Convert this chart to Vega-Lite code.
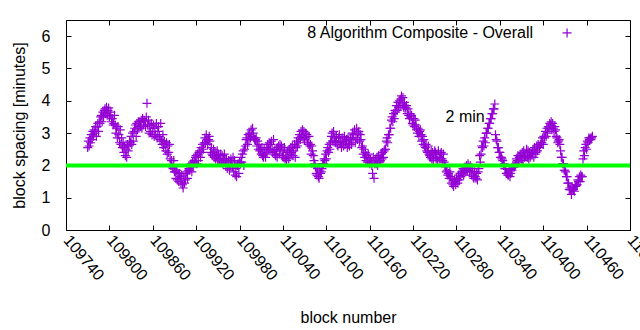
{
"$schema": "https://vega.github.io/schema/vega-lite/v6.json",
"width": 564, "height": 210,
"autosize": {"type": "none"},
"padding": {"left": 66, "top": 20, "right": 10, "bottom": 100},
"background": "white",
"config": {"view": {"stroke": "black", "strokeWidth": 1}, "font": "Liberation Sans",
 "axis": {"grid": false, "domain": false, "tickColor": "black", "tickSize": -5, "labelColor": "black", "labelFontSize": 16, "titleFontSize": 16, "titleFontWeight": "normal", "titleColor": "black", "labelFont": "Liberation Sans", "titleFont": "Liberation Sans"}},
"datasets": {"blocks": [
{"b":109770,"v":2.55},{"b":109771,"v":2.75},{"b":109772,"v":2.6},{"b":109773,"v":2.85},{"b":109774,"v":2.7},{"b":109775,"v":2.95},{"b":109776,"v":2.8},{"b":109777,"v":3.05},{"b":109778,"v":2.9},{"b":109779,"v":3.1},
{"b":109780,"v":3.0},{"b":109781,"v":3.2},{"b":109782,"v":2.9},{"b":109783,"v":3.2},{"b":109784,"v":3.3},{"b":109785,"v":3.05},{"b":109786,"v":3.35},
{"b":109787,"v":3.3},{"b":109788,"v":3.5},{"b":109789,"v":3.55},{"b":109790,"v":3.35},{"b":109791,"v":3.65},{"b":109792,"v":3.5},{"b":109793,"v":3.7},
{"b":109794,"v":3.75},{"b":109795,"v":3.6},{"b":109796,"v":3.8},{"b":109797,"v":3.55},{"b":109798,"v":3.7},{"b":109799,"v":3.78},{"b":109800,"v":3.5},
{"b":109801,"v":3.55},{"b":109802,"v":3.65},{"b":109803,"v":3.35},{"b":109804,"v":3.45},{"b":109805,"v":3.25},{"b":109806,"v":3.3},{"b":109807,"v":3.55},
{"b":109808,"v":3.25},{"b":109809,"v":3.0},{"b":109810,"v":3.15},{"b":109811,"v":2.85},{"b":109812,"v":3.2},{"b":109813,"v":2.95},{"b":109814,"v":2.7},
{"b":109815,"v":3.1},{"b":109816,"v":2.65},{"b":109817,"v":2.85},{"b":109818,"v":2.55},{"b":109819,"v":2.7},{"b":109820,"v":2.4},{"b":109821,"v":2.6},
{"b":109822,"v":2.3},{"b":109823,"v":2.5},{"b":109824,"v":2.25},{"b":109825,"v":2.65},{"b":109826,"v":2.45},{"b":109827,"v":2.6},{"b":109828,"v":2.75},
{"b":109829,"v":2.7},{"b":109830,"v":2.9},{"b":109831,"v":2.65},{"b":109832,"v":3.0},{"b":109833,"v":2.75},{"b":109834,"v":3.05},
{"b":109835,"v":3.15},{"b":109836,"v":3.25},{"b":109837,"v":2.9},{"b":109838,"v":3.3},{"b":109839,"v":3.1},{"b":109840,"v":3.35},{"b":109841,"v":3.15},
{"b":109842,"v":3.35},{"b":109843,"v":3.2},{"b":109844,"v":3.4},{"b":109845,"v":3.15},{"b":109846,"v":3.45},{"b":109847,"v":3.25},{"b":109848,"v":3.4},
{"b":109849,"v":3.35},{"b":109850,"v":3.2},{"b":109851,"v":3.5},{"b":109852,"v":3.92},{"b":109853,"v":3.25},{"b":109854,"v":3.4},{"b":109855,"v":3.0},
{"b":109856,"v":3.25},{"b":109857,"v":3.05},{"b":109858,"v":3.3},{"b":109859,"v":2.95},{"b":109860,"v":3.15},{"b":109861,"v":3.25},{"b":109862,"v":2.9},
{"b":109863,"v":3.15},{"b":109864,"v":2.95},{"b":109865,"v":3.3},{"b":109866,"v":2.85},{"b":109867,"v":3.05},{"b":109868,"v":3.2},{"b":109869,"v":2.9},
{"b":109870,"v":2.8},{"b":109871,"v":3.3},{"b":109872,"v":2.75},{"b":109873,"v":2.65},{"b":109874,"v":2.95},{"b":109875,"v":2.55},{"b":109876,"v":2.75},
{"b":109877,"v":2.65},{"b":109878,"v":2.45},{"b":109879,"v":2.7},{"b":109880,"v":2.35},{"b":109881,"v":2.6},{"b":109882,"v":2.4},{"b":109883,"v":2.65},
{"b":109884,"v":2.2},{"b":109885,"v":2.0},{"b":109886,"v":2.15},{"b":109887,"v":1.95},{"b":109888,"v":1.9},{"b":109889,"v":2.15},{"b":109890,"v":1.8},
{"b":109891,"v":1.8},{"b":109892,"v":1.6},{"b":109893,"v":1.85},{"b":109894,"v":1.55},{"b":109895,"v":1.75},{"b":109896,"v":1.5},{"b":109897,"v":1.75},
{"b":109898,"v":1.65},{"b":109899,"v":1.45},{"b":109900,"v":1.7},{"b":109901,"v":1.4},{"b":109902,"v":1.3},{"b":109903,"v":1.6},{"b":109904,"v":1.45},
{"b":109905,"v":1.55},{"b":109906,"v":1.75},{"b":109907,"v":1.8},{"b":109908,"v":1.6},{"b":109909,"v":1.85},{"b":109910,"v":1.9},
{"b":109911,"v":1.85},{"b":109912,"v":2.0},{"b":109913,"v":2.05},{"b":109914,"v":1.8},{"b":109915,"v":2.1},{"b":109916,"v":1.95},{"b":109917,"v":2.15},
{"b":109918,"v":2.1},{"b":109919,"v":2.25},{"b":109920,"v":2.3},{"b":109921,"v":2.05},{"b":109922,"v":2.35},{"b":109923,"v":2.15},{"b":109924,"v":2.4},
{"b":109925,"v":2.45},{"b":109926,"v":2.25},{"b":109927,"v":2.55},{"b":109928,"v":2.4},{"b":109929,"v":2.65},{"b":109930,"v":2.5},{"b":109931,"v":2.7},
{"b":109932,"v":2.85},{"b":109933,"v":2.7},{"b":109934,"v":2.95},{"b":109935,"v":2.8},{"b":109936,"v":2.65},{"b":109937,"v":2.8},{"b":109938,"v":2.9},
{"b":109939,"v":2.75},{"b":109940,"v":2.4},{"b":109941,"v":2.55},{"b":109942,"v":2.35},{"b":109943,"v":2.3},{"b":109944,"v":2.5},{"b":109945,"v":2.25},
{"b":109946,"v":2.4},{"b":109947,"v":2.2},{"b":109948,"v":2.3},{"b":109949,"v":2.45},{"b":109950,"v":2.15},{"b":109951,"v":2.35},{"b":109952,"v":2.2},
{"b":109953,"v":2.15},{"b":109954,"v":2.35},{"b":109955,"v":2.1},{"b":109956,"v":2.3},{"b":109957,"v":2.05},{"b":109958,"v":2.2},{"b":109959,"v":2.35},
{"b":109960,"v":2.15},{"b":109961,"v":2.0},{"b":109962,"v":2.2},{"b":109963,"v":1.9},{"b":109964,"v":2.0},{"b":109965,"v":2.15},{"b":109966,"v":1.85},
{"b":109967,"v":2.0},{"b":109968,"v":2.2},{"b":109969,"v":2.1},{"b":109970,"v":1.95},{"b":109971,"v":2.25},{"b":109972,"v":1.8},{"b":109973,"v":2.15},
{"b":109974,"v":1.7},{"b":109975,"v":1.9},{"b":109976,"v":1.65},{"b":109977,"v":2.0},{"b":109978,"v":2.05},{"b":109979,"v":1.75},{"b":109980,"v":2.1},
{"b":109981,"v":2.05},{"b":109982,"v":2.25},{"b":109983,"v":2.1},{"b":109984,"v":2.35},{"b":109985,"v":2.45},{"b":109986,"v":2.0},{"b":109987,"v":2.5},
{"b":109988,"v":2.6},{"b":109989,"v":2.8},{"b":109990,"v":2.85},{"b":109991,"v":2.65},{"b":109992,"v":2.95},{"b":109993,"v":2.8},{"b":109994,"v":3.0},
{"b":109995,"v":2.85},{"b":109996,"v":3.1},{"b":109997,"v":2.9},{"b":109998,"v":3.15},{"b":109999,"v":3.0},{"b":110000,"v":2.85},{"b":110001,"v":2.8},
{"b":110002,"v":2.8},{"b":110003,"v":2.85},{"b":110004,"v":2.6},{"b":110005,"v":2.75},{"b":110006,"v":2.5},{"b":110007,"v":2.65},{"b":110008,"v":2.45},
{"b":110009,"v":2.5},{"b":110010,"v":2.35},{"b":110011,"v":2.55},{"b":110012,"v":2.3},{"b":110013,"v":2.25},{"b":110014,"v":2.5},{"b":110015,"v":2.35},
{"b":110016,"v":2.25},{"b":110017,"v":2.55},{"b":110018,"v":2.4},{"b":110019,"v":2.65},{"b":110020,"v":2.5},{"b":110021,"v":2.7},{"b":110022,"v":2.45},
{"b":110023,"v":2.65},{"b":110024,"v":2.75},{"b":110025,"v":2.5},{"b":110026,"v":2.4},{"b":110027,"v":2.8},{"b":110028,"v":2.45},{"b":110029,"v":2.35},
{"b":110030,"v":2.3},{"b":110031,"v":2.5},{"b":110032,"v":2.25},{"b":110033,"v":2.55},{"b":110034,"v":2.6},{"b":110035,"v":2.35},{"b":110036,"v":2.65},
{"b":110037,"v":2.5},{"b":110038,"v":2.6},{"b":110039,"v":2.3},{"b":110040,"v":2.45},{"b":110041,"v":2.25},{"b":110042,"v":2.55},{"b":110043,"v":2.2},
{"b":110044,"v":2.25},{"b":110045,"v":2.15},{"b":110046,"v":2.4},{"b":110047,"v":2.45},{"b":110048,"v":2.2},{"b":110049,"v":2.5},{"b":110050,"v":2.35},
{"b":110051,"v":2.55},{"b":110052,"v":2.4},{"b":110053,"v":2.6},{"b":110054,"v":2.3},{"b":110055,"v":2.45},{"b":110056,"v":2.65},{"b":110057,"v":2.25},
{"b":110058,"v":2.55},{"b":110059,"v":2.75},{"b":110060,"v":2.6},{"b":110061,"v":2.85},{"b":110062,"v":2.7},{"b":110063,"v":2.95},{"b":110064,"v":2.8},
{"b":110065,"v":3.05},{"b":110066,"v":2.9},{"b":110067,"v":3.1},{"b":110068,"v":2.85},{"b":110069,"v":3.05},{"b":110070,"v":2.8},{"b":110071,"v":3.0},
{"b":110072,"v":2.85},{"b":110073,"v":2.95},{"b":110074,"v":2.7},{"b":110075,"v":2.65},{"b":110076,"v":2.9},{"b":110077,"v":2.6},
{"b":110078,"v":2.65},{"b":110079,"v":2.35},{"b":110080,"v":2.6},{"b":110081,"v":2.45},{"b":110082,"v":2.3},{"b":110083,"v":2.15},{"b":110084,"v":2.05},
{"b":110085,"v":1.95},{"b":110086,"v":1.75},{"b":110087,"v":1.7},{"b":110088,"v":1.9},{"b":110089,"v":1.65},{"b":110090,"v":1.6},{"b":110091,"v":1.85},
{"b":110092,"v":1.75},{"b":110093,"v":1.8},{"b":110094,"v":1.9},{"b":110095,"v":2.05},{"b":110096,"v":2.05},{"b":110097,"v":2.2},{"b":110098,"v":2.15},
{"b":110099,"v":2.35},{"b":110100,"v":2.2},{"b":110101,"v":2.45},{"b":110102,"v":2.55},{"b":110103,"v":2.4},{"b":110104,"v":2.65},{"b":110105,"v":2.5},
{"b":110106,"v":2.7},{"b":110107,"v":2.9},{"b":110108,"v":3.0},{"b":110109,"v":2.75},{"b":110110,"v":3.05},{"b":110111,"v":2.85},{"b":110112,"v":2.75},
{"b":110113,"v":2.7},{"b":110114,"v":2.9},{"b":110115,"v":2.65},{"b":110116,"v":2.6},{"b":110117,"v":2.85},{"b":110118,"v":2.95},{"b":110119,"v":2.7},
{"b":110120,"v":2.75},{"b":110121,"v":2.55},{"b":110122,"v":2.85},{"b":110123,"v":2.7},{"b":110124,"v":2.6},{"b":110125,"v":2.9},{"b":110126,"v":2.65},
{"b":110127,"v":2.75},{"b":110128,"v":2.8},{"b":110129,"v":2.55},{"b":110130,"v":2.85},{"b":110131,"v":2.65},{"b":110132,"v":2.6},{"b":110133,"v":2.8},
{"b":110134,"v":2.85},{"b":110135,"v":2.65},{"b":110136,"v":3.0},{"b":110137,"v":2.8},{"b":110138,"v":2.95},{"b":110139,"v":3.1},{"b":110140,"v":2.7},
{"b":110141,"v":2.85},{"b":110142,"v":3.15},{"b":110143,"v":2.8},{"b":110144,"v":3.0},{"b":110145,"v":3.05},{"b":110146,"v":2.75},{"b":110147,"v":2.95},
{"b":110148,"v":2.8},{"b":110149,"v":2.55},{"b":110150,"v":2.6},{"b":110151,"v":2.35},{"b":110152,"v":2.5},{"b":110153,"v":2.25},{"b":110154,"v":2.4},
{"b":110155,"v":2.15},{"b":110156,"v":2.3},{"b":110157,"v":2.1},{"b":110158,"v":2.35},{"b":110159,"v":2.2},{"b":110160,"v":2.05},
{"b":110161,"v":2.15},{"b":110162,"v":2.1},{"b":110163,"v":2.0},{"b":110164,"v":1.75},{"b":110165,"v":2.25},{"b":110166,"v":1.6},{"b":110167,"v":2.05},
{"b":110168,"v":2.2},{"b":110169,"v":2.05},{"b":110170,"v":2.25},{"b":110171,"v":2.0},{"b":110172,"v":2.3},{"b":110173,"v":2.15},{"b":110174,"v":2.1},
{"b":110175,"v":2.15},{"b":110176,"v":2.35},{"b":110177,"v":2.2},{"b":110178,"v":2.4},{"b":110179,"v":2.25},{"b":110180,"v":2.45},{"b":110181,"v":2.5},
{"b":110182,"v":2.5},{"b":110183,"v":2.75},{"b":110184,"v":2.85},{"b":110185,"v":2.7},{"b":110186,"v":2.95},{"b":110187,"v":2.95},{"b":110188,"v":3.15},
{"b":110189,"v":3.15},{"b":110190,"v":3.4},{"b":110191,"v":3.5},{"b":110192,"v":3.35},{"b":110193,"v":3.6},{"b":110194,"v":3.45},{"b":110195,"v":3.7},
{"b":110196,"v":3.65},{"b":110197,"v":3.85},{"b":110198,"v":3.7},{"b":110199,"v":3.95},{"b":110200,"v":3.8},{"b":110201,"v":4.0},{"b":110202,"v":3.85},
{"b":110203,"v":4.05},{"b":110204,"v":4.15},{"b":110205,"v":3.9},{"b":110206,"v":4.1},{"b":110207,"v":3.8},{"b":110208,"v":3.95},{"b":110209,"v":3.75},
{"b":110210,"v":3.8},{"b":110211,"v":3.85},{"b":110212,"v":3.6},{"b":110213,"v":3.75},{"b":110214,"v":3.55},{"b":110215,"v":3.45},{"b":110216,"v":3.6},
{"b":110217,"v":3.5},{"b":110218,"v":3.55},{"b":110219,"v":3.3},{"b":110220,"v":3.25},{"b":110221,"v":3.45},{"b":110222,"v":3.2},{"b":110223,"v":3.4},
{"b":110224,"v":3.25},{"b":110225,"v":3.1},{"b":110226,"v":3.0},{"b":110227,"v":3.15},{"b":110228,"v":2.9},{"b":110229,"v":3.05},{"b":110230,"v":3.1},
{"b":110231,"v":2.95},{"b":110232,"v":2.75},{"b":110233,"v":2.9},{"b":110234,"v":2.65},{"b":110235,"v":2.8},{"b":110236,"v":2.6},{"b":110237,"v":2.55},
{"b":110238,"v":2.65},{"b":110239,"v":2.45},{"b":110240,"v":2.4},{"b":110241,"v":2.6},{"b":110242,"v":2.35},{"b":110243,"v":2.3},
{"b":110244,"v":2.25},{"b":110245,"v":2.45},{"b":110246,"v":2.2},{"b":110247,"v":2.4},{"b":110248,"v":2.15},{"b":110249,"v":2.35},{"b":110250,"v":2.45},
{"b":110251,"v":2.4},{"b":110252,"v":2.2},{"b":110253,"v":2.35},{"b":110254,"v":2.15},{"b":110255,"v":2.45},{"b":110256,"v":2.25},{"b":110257,"v":2.2},
{"b":110258,"v":2.35},{"b":110259,"v":2.4},{"b":110260,"v":2.2},{"b":110261,"v":2.15},{"b":110262,"v":2.35},{"b":110263,"v":2.1},{"b":110264,"v":2.0},
{"b":110265,"v":1.95},{"b":110266,"v":1.8},{"b":110267,"v":1.85},{"b":110268,"v":1.7},{"b":110269,"v":1.75},{"b":110270,"v":1.6},{"b":110271,"v":1.8},
{"b":110272,"v":1.65},{"b":110273,"v":1.45},{"b":110274,"v":1.6},{"b":110275,"v":1.4},{"b":110276,"v":1.35},{"b":110277,"v":1.55},{"b":110278,"v":1.5},
{"b":110279,"v":1.4},{"b":110280,"v":1.6},{"b":110281,"v":1.55},{"b":110282,"v":1.45},{"b":110283,"v":1.7},{"b":110284,"v":1.55},{"b":110285,"v":1.75},
{"b":110286,"v":1.65},{"b":110287,"v":1.8},{"b":110288,"v":1.75},{"b":110289,"v":1.9},{"b":110290,"v":1.7},{"b":110291,"v":1.85},{"b":110292,"v":1.95},
{"b":110293,"v":1.8},{"b":110294,"v":2.0},{"b":110295,"v":1.85},{"b":110296,"v":2.05},{"b":110297,"v":1.95},{"b":110298,"v":1.8},{"b":110299,"v":2.0},
{"b":110300,"v":1.85},{"b":110301,"v":1.7},{"b":110302,"v":1.9},{"b":110303,"v":1.65},{"b":110304,"v":1.6},{"b":110305,"v":1.8},{"b":110306,"v":1.65},
{"b":110307,"v":1.6},{"b":110308,"v":1.75},{"b":110309,"v":1.55},{"b":110310,"v":1.8},{"b":110311,"v":1.9},{"b":110312,"v":2.3},{"b":110313,"v":2.1},
{"b":110314,"v":2.35},{"b":110315,"v":2.6},{"b":110316,"v":2.55},{"b":110317,"v":2.75},{"b":110318,"v":2.6},{"b":110319,"v":2.85},{"b":110320,"v":2.7},
{"b":110321,"v":3.0},{"b":110322,"v":3.0},{"b":110323,"v":3.15},{"b":110324,"v":3.15},{"b":110325,"v":3.3},{"b":110326,"v":3.3},
{"b":110327,"v":3.45},{"b":110328,"v":3.45},{"b":110329,"v":3.6},{"b":110330,"v":3.6},{"b":110331,"v":3.75},{"b":110332,"v":3.75},{"b":110333,"v":3.9},
{"b":110334,"v":2.95},{"b":110335,"v":2.8},{"b":110336,"v":2.75},{"b":110337,"v":2.55},{"b":110338,"v":2.55},{"b":110339,"v":2.4},{"b":110340,"v":2.4},
{"b":110341,"v":2.25},{"b":110342,"v":2.25},{"b":110343,"v":2.2},{"b":110344,"v":2.15},{"b":110345,"v":2.0},{"b":110346,"v":2.05},{"b":110347,"v":1.9},
{"b":110348,"v":1.9},{"b":110349,"v":1.75},{"b":110350,"v":1.75},{"b":110351,"v":1.7},{"b":110352,"v":1.7},{"b":110353,"v":1.85},{"b":110354,"v":1.65},
{"b":110355,"v":1.75},{"b":110356,"v":1.9},{"b":110357,"v":1.85},{"b":110358,"v":2.0},{"b":110359,"v":1.95},{"b":110360,"v":1.95},{"b":110361,"v":2.0},
{"b":110362,"v":2.05},{"b":110363,"v":2.2},{"b":110364,"v":2.15},{"b":110365,"v":2.3},{"b":110366,"v":2.1},{"b":110367,"v":2.25},{"b":110368,"v":2.25},
{"b":110369,"v":2.35},{"b":110370,"v":2.2},{"b":110371,"v":2.4},{"b":110372,"v":2.15},{"b":110373,"v":2.45},{"b":110374,"v":2.25},{"b":110375,"v":2.3},
{"b":110376,"v":2.3},{"b":110377,"v":2.5},{"b":110378,"v":2.25},{"b":110379,"v":2.45},{"b":110380,"v":2.2},{"b":110381,"v":2.4},{"b":110382,"v":2.25},
{"b":110383,"v":2.35},{"b":110384,"v":2.35},{"b":110385,"v":2.4},{"b":110386,"v":2.5},{"b":110387,"v":2.25},{"b":110388,"v":2.55},{"b":110389,"v":2.35},
{"b":110390,"v":2.4},{"b":110391,"v":2.6},{"b":110392,"v":2.45},{"b":110393,"v":2.65},{"b":110394,"v":2.6},{"b":110395,"v":2.55},{"b":110396,"v":2.65},
{"b":110397,"v":2.7},{"b":110398,"v":2.7},{"b":110399,"v":2.85},{"b":110400,"v":2.65},{"b":110401,"v":2.9},{"b":110402,"v":2.85},
{"b":110403,"v":3.05},{"b":110404,"v":2.9},{"b":110405,"v":3.15},{"b":110406,"v":3.0},{"b":110407,"v":3.2},{"b":110408,"v":3.15},{"b":110409,"v":3.3},
{"b":110410,"v":3.25},{"b":110411,"v":3.35},{"b":110412,"v":3.1},{"b":110413,"v":3.3},{"b":110414,"v":3.15},{"b":110415,"v":3.05},{"b":110416,"v":3.2},
{"b":110417,"v":3.1},{"b":110418,"v":2.9},{"b":110419,"v":2.85},{"b":110420,"v":2.7},{"b":110421,"v":2.75},{"b":110422,"v":2.8},{"b":110423,"v":2.65},
{"b":110424,"v":2.45},{"b":110425,"v":2.25},{"b":110426,"v":2.25},{"b":110427,"v":2.05},{"b":110428,"v":2.05},{"b":110429,"v":1.85},{"b":110430,"v":1.85},
{"b":110431,"v":1.8},{"b":110432,"v":1.65},{"b":110433,"v":1.65},{"b":110434,"v":1.45},{"b":110435,"v":1.45},{"b":110436,"v":1.25},{"b":110437,"v":1.3},
{"b":110438,"v":1.25},{"b":110439,"v":1.1},{"b":110440,"v":1.3},{"b":110441,"v":1.25},{"b":110442,"v":1.25},{"b":110443,"v":1.2},{"b":110444,"v":1.4},
{"b":110445,"v":1.35},{"b":110446,"v":1.4},{"b":110447,"v":1.4},{"b":110448,"v":1.55},{"b":110449,"v":1.5},{"b":110450,"v":1.65},{"b":110451,"v":1.5},
{"b":110452,"v":1.7},{"b":110453,"v":1.65},{"b":110454,"v":1.65},{"b":110455,"v":2.2},{"b":110456,"v":2.45},{"b":110457,"v":2.3},{"b":110458,"v":2.55},
{"b":110459,"v":2.65},{"b":110460,"v":2.5},{"b":110461,"v":2.75},{"b":110462,"v":2.7},{"b":110463,"v":2.85},{"b":110464,"v":2.8},{"b":110465,"v":2.85},
{"b":110466,"v":2.8},{"b":110467,"v":2.85},{"b":110468,"v":2.9}
]},
"layer": [
 {"data": {"name": "blocks"},
  "mark": {"type": "point", "shape": "M-1,0L1,0M0,-1L0,1", "filled": false, "stroke": "#9400d3", "strokeWidth": 1.2, "size": 81, "opacity": 1},
  "encoding": {
   "x": {"field": "b", "type": "quantitative", "scale": {"domain": [109740, 110520], "nice": false, "zero": false},
     "axis": {"orient": "bottom", "format": "d", "values": [109740,109800,109860,109920,109980,110040,110100,110160,110220,110280,110340,110400,110460,110520], "labelAngle": 50, "labelAlign": "left", "labelBaseline": "middle", "labelPadding": 12, "labelFlush": false, "labelOverlap": false, "title": "block number", "titlePadding": 26}},
   "y": {"field": "v", "type": "quantitative", "scale": {"domain": [0, 6.5], "nice": false, "zero": true},
     "axis": {"orient": "left", "values": [0,1,2,3,4,5,6], "labelPadding": 21, "title": "block spacing [minutes]", "titlePadding": 14}}
  }},
 {"data": {"values": [{}]},
  "mark": {"type": "rule", "color": "#00ff00", "strokeWidth": 4},
  "encoding": {"y": {"datum": 2, "axis": null}}},
 {"data": {"values": [{}]},
  "mark": {"type": "text", "align": "left", "baseline": "middle", "fontSize": 16, "font": "Liberation Sans", "color": "black"},
  "encoding": {"x": {"datum": 110265, "axis": null}, "y": {"datum": 3.5, "axis": null}, "text": {"value": "2 min"}}},
 {"data": {"values": [{}]},
  "mark": {"type": "text", "align": "right", "baseline": "middle", "fontSize": 16, "font": "Liberation Sans", "color": "black"},
  "encoding": {"x": {"datum": 110386, "axis": null}, "y": {"datum": 6.1, "axis": null}, "text": {"value": "8 Algorithm Composite - Overall"}}},
 {"data": {"values": [{}]},
  "mark": {"type": "point", "shape": "M-1,0L1,0M0,-1L0,1", "filled": false, "stroke": "#9400d3", "strokeWidth": 1.2, "size": 81, "opacity": 1},
  "encoding": {"x": {"datum": 110433, "axis": null}, "y": {"datum": 6.1, "axis": null}}},
 {"data": {"name": "blocks"},
  "mark": {"type": "point", "opacity": 0},
  "encoding": {
   "x": {"field": "b", "type": "quantitative", "axis": {"orient": "top", "values": [109740,109800,109860,109920,109980,110040,110100,110160,110220,110280,110340,110400,110460,110520], "labels": false, "title": null}},
   "y": {"field": "v", "type": "quantitative", "axis": {"orient": "right", "values": [0,1,2,3,4,5,6], "labels": false, "title": null}}
  }}
],
"resolve": {"axis": {"x": "independent", "y": "independent"}}
}
